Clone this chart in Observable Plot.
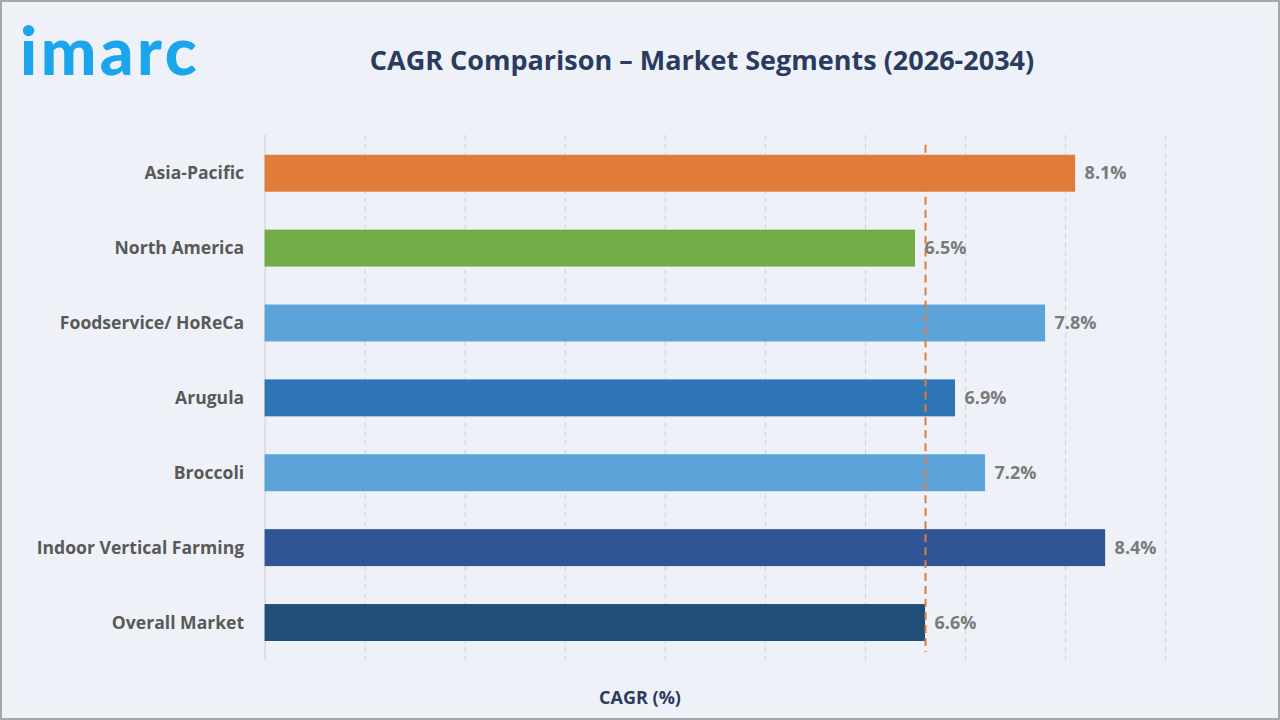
<!DOCTYPE html>
<html>
<head>
<meta charset="utf-8">
<script src="https://cdn.jsdelivr.net/npm/d3@7"></script>
<script src="https://cdn.jsdelivr.net/npm/@observablehq/plot@0.6"></script>
<style>
  html, body { margin: 0; padding: 0; background: #ffffff; }
  #frame {
    position: relative; width: 1276px; height: 716px;
    border: 2px solid #a6a6a6; background: #eef2f8; overflow: hidden;
    font-family: "Open Sans", sans-serif;
  }
  #logo {
    position: absolute; left: 18px; top: 8px;
    font-family: "Lato", sans-serif; font-weight: 900; font-size: 66px;
    color: #1ba5ec; letter-spacing: 3.5px;
  }
  #title {
    position: absolute; left: 0; width: 1400px; top: 39px; text-align: center;
    font-weight: 700; font-size: 27px; color: #2b3b5e;
  }
  #xlabel {
    position: absolute; left: 0; width: 1276px; top: 683px; text-align: center;
    font-weight: 700; font-size: 18px; color: #2b3b5e;
  }
  #chart { position: absolute; left: -2px; top: -2px; }
</style>
</head>
<body>
<div id="frame">
  <div id="chart"></div>
  <div id="logo">imarc</div>
  <div id="title">CAGR Comparison – Market Segments (2026-2034)</div>
  <div id="xlabel">CAGR (%)</div>
</div>
<script>
// Segments and their compound annual growth rates, 2026-2034
const segments = [
  "Asia-Pacific",
  "North America",
  "Foodservice/ HoReCa",
  "Arugula",
  "Broccoli",
  "Indoor Vertical Farming",
  "Overall Market"
];
const cagr = [8.1, 6.5, 7.8, 6.9, 7.2, 8.4, 6.6];
const overallCagr = 6.6;

const palette = ["#e07b39", "#70ad47", "#5ba3d9", "#2e75b6", "#5ba3d9", "#2f5597", "#1f4e79"];

const rows = segments.map((s, i) => ({segment: s, value: cagr[i]}));

const chart = Plot.plot({
  width: 1280,
  height: 720,
  marginLeft: 265,
  marginRight: 113,
  marginTop: 135,
  marginBottom: 59,
  style: {background: "transparent", fontFamily: "Open Sans, sans-serif"},
  x: {domain: [0, 9], axis: null},
  y: {domain: segments, paddingInner: 0.51, paddingOuter: 0.24, axis: null},
  color: {domain: segments, range: palette},
  marks: [
    Plot.gridX(d3.range(1, 10), {stroke: "#cfd2d8", strokeOpacity: 1, strokeDasharray: "5,4", strokeWidth: 1}),
    Plot.ruleX([0], {stroke: "#c9ccd2", strokeWidth: 1}),
    Plot.barX(rows, {y: "segment", x: "value", fill: "segment"}),
    Plot.axisY({
      tickSize: 0, tickPadding: 21, fontSize: 17.6, fontWeight: 700,
      fill: "#595959", label: null
    }),
    Plot.ruleX([overallCagr], {stroke: "#e07b39", strokeWidth: 2, strokeDasharray: "8,5", insetTop: 10, insetBottom: 8}),
    Plot.text(rows, {
      y: "segment", x: "value", text: d => `${d.value}%`,
      dx: 9, textAnchor: "start", fontSize: 18, fontWeight: 700, fill: "#7a7a7a"
    })
  ]
});
document.getElementById("chart").appendChild(chart);
</script>
</body>
</html>
